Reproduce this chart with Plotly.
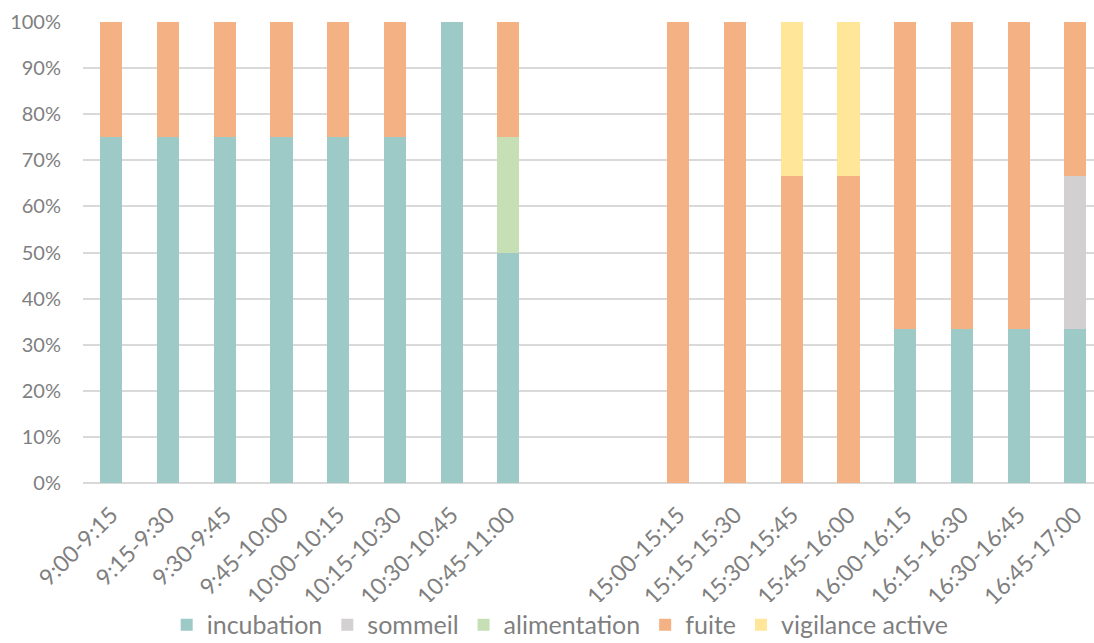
import plotly.graph_objects as go

# Time slots (two blank slots separate the morning and afternoon sessions)
slots = ["9:00-9:15", "9:15-9:30", "9:30-9:45", "9:45-10:00", "10:00-10:15",
         "10:15-10:30", "10:30-10:45", "10:45-11:00", "", "",
         "15:00-15:15", "15:15-15:30", "15:30-15:45", "15:45-16:00",
         "16:00-16:15", "16:15-16:30", "16:30-16:45", "16:45-17:00"]

# Share of each behaviour per slot (%)
incubation = [75, 75, 75, 75, 75, 75, 100, 50, None, None,
              0, 0, 0, 0, 33.3, 33.3, 33.3, 33.3]
sommeil = [0, 0, 0, 0, 0, 0, 0, 0, None, None,
           0, 0, 0, 0, 0, 0, 0, 33.3]
alimentation = [0, 0, 0, 0, 0, 0, 0, 25, None, None,
                0, 0, 0, 0, 0, 0, 0, 0]
fuite = [25, 25, 25, 25, 25, 25, 0, 25, None, None,
         100, 100, 66.7, 66.7, 66.7, 66.7, 66.7, 33.4]
vigilance = [0, 0, 0, 0, 0, 0, 0, 0, None, None,
             0, 0, 33.3, 33.3, 0, 0, 0, 0]

pct_ticks = [0, 10, 20, 30, 40, 50, 60, 70, 80, 90, 100]
pct_labels = ["0%", "10%", "20%", "30%", "40%", "50%",
              "60%", "70%", "80%", "90%", "100%"]

series = [
    ("incubation", incubation, "#9DC9C6"),
    ("sommeil", sommeil, "#D2D0D1"),
    ("alimentation", alimentation, "#C6DFB4"),
    ("fuite", fuite, "#F4B183"),
    ("vigilance active", vigilance, "#FFE699"),
]

pos = list(range(len(slots)))
font_family = "Lato"
grey = "#7F7F7F"

fig = go.Figure()
for name, vals, col in series:
    fig.add_trace(go.Bar(
        x=pos, y=vals, name=name, width=0.39,
        marker=dict(color=col, line=dict(width=0)),
    ))

fig.update_layout(
    barmode="stack",
    width=1094, height=643,
    margin=dict(l=83, r=0, t=22, b=160, autoexpand=False),
    plot_bgcolor="white", paper_bgcolor="white",
    font=dict(family=font_family, color=grey, size=20),
    xaxis=dict(
        tickmode="array", tickvals=pos, ticktext=slots,
        range=[-0.5, 17.33], tickangle=-45, automargin=False,
        showgrid=False, zeroline=False, showline=False, ticks="",
        ticklabelstandoff=13,
        tickfont=dict(size=23, color=grey),
    ),
    yaxis=dict(
        range=[0, 100], tickmode="array", tickvals=pct_ticks,
        ticktext=pct_labels, automargin=False,
        showgrid=True, gridcolor="#D9D9D9", gridwidth=1.5,
        zeroline=True, zerolinecolor="#D9D9D9", zerolinewidth=1.5,
        ticks="", ticklabelstandoff=21,
        tickfont=dict(size=20, color=grey),
    ),
    legend=dict(
        orientation="h", x=0.472, xanchor="center", y=-0.308, yanchor="middle",
        font=dict(size=25, color=grey), itemwidth=30, traceorder="normal",
    ),
    bargap=0,
)

fig.write_html("out.html")
